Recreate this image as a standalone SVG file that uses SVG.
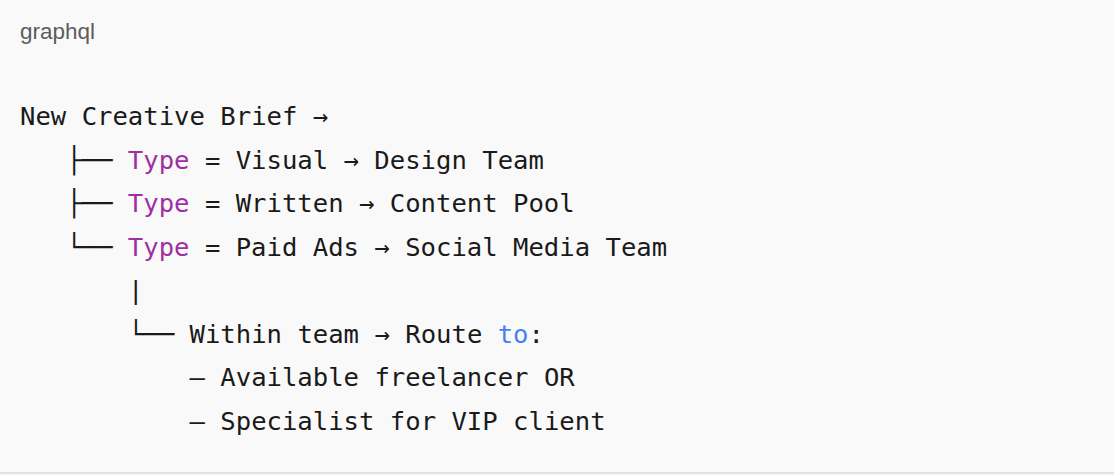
<svg xmlns="http://www.w3.org/2000/svg" width="1114" height="476" viewBox="0 0 1114 476">
<style>
.code{font-family:"DejaVu Sans Mono","Liberation Mono",monospace;font-size:25.6px;fill:#1a1a1a;white-space:pre}
.kw{fill:#a02fa3}
.bl{fill:#4a7ff0}
.lang{font-family:"Liberation Sans","Noto Sans",sans-serif;font-size:22.5px;fill:#5c5c5c}
</style>
<rect x="0" y="0" width="1114" height="476" fill="#f9f9f9"/>
<rect x="0" y="472" width="1114" height="2" fill="#e2e2e2"/>
<text class="lang" x="20" y="39">graphql</text>
<text class="code" x="20" y="125">New Creative Brief →</text>
<text class="code" x="66.2" y="168.5">├── <tspan class="kw">Type</tspan> = Visual → Design Team</text>
<text class="code" x="66.2" y="212">├── <tspan class="kw">Type</tspan> = Written → Content Pool</text>
<text class="code" x="66.2" y="255.5">└── <tspan class="kw">Type</tspan> = Paid Ads → Social Media Team</text>
<text class="code" x="127.9" y="299">|</text>
<text class="code" x="127.9" y="342.5">└── Within team → Route <tspan class="bl">to</tspan>:</text>
<text class="code" x="189.5" y="386">– Available freelancer OR</text>
<text class="code" x="189.5" y="429.5">– Specialist for VIP client</text>
</svg>
